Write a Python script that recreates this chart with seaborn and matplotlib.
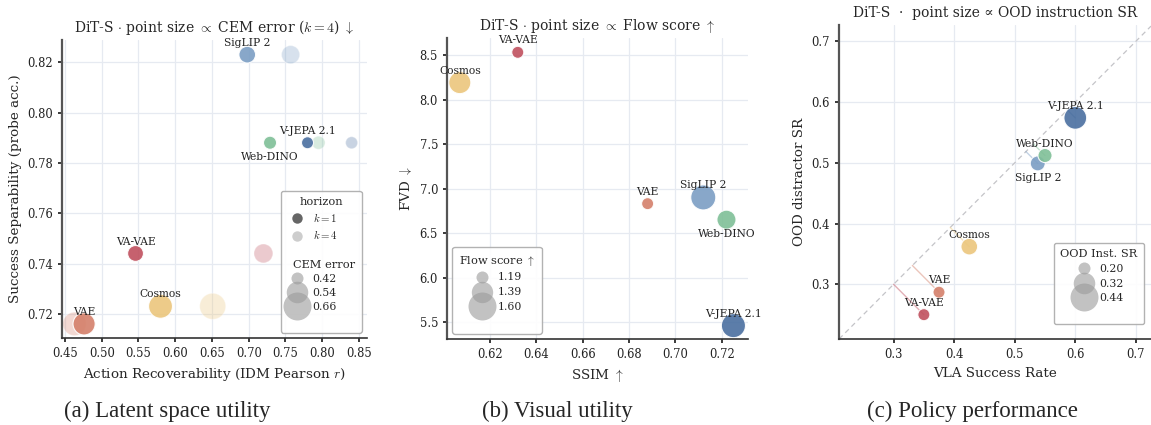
"""
DiT-S 三个维度的散点对比：潜空间可用性、视觉质量、策略表现。
"""

import numpy as np
import pandas as pd
import matplotlib as mpl
import matplotlib.pyplot as plt
import seaborn as sns
from matplotlib.lines import Line2D
from matplotlib.offsetbox import HPacker, DrawingArea

# ---- 数据 ----
models = ["VAE", "VA-VAE", "Cosmos", "SigLIP 2", "Web-DINO", "V-JEPA 2.1"]
colors = ["#d4806a", "#c0505e", "#ebc67c", "#7b9ec4", "#7fbf97", "#4a6fa0"]

# (a) 潜空间可用性
idm_k1 = [0.476, 0.546, 0.580, 0.698, 0.729, 0.780]
idm_k4 = [0.463, 0.720, 0.651, 0.757, 0.795, 0.840]
probe_acc = [0.716, 0.744, 0.723, 0.823, 0.788, 0.788]
cem_k1 = [0.55, 0.46, 0.58, 0.47, 0.43, 0.40]
cem_k4 = [0.57, 0.50, 0.62, 0.49, 0.43, 0.40]
cem_ticks = [0.42, 0.54, 0.66]

# (b) 视觉质量
ssim = [0.688, 0.632, 0.607, 0.712, 0.722, 0.725]
fvd = [6.83, 8.53, 8.19, 6.90, 6.65, 5.46]
flow = [1.15, 1.15, 1.41, 1.50, 1.33, 1.47]
flow_ticks = [1.19, 1.39, 1.60]

# (c) 策略表现
vla_sr = [0.375, 0.350, 0.425, 0.538, 0.550, 0.600]
ood_dist = [0.287, 0.250, 0.362, 0.499, 0.512, 0.574]
ood_inst = [0.17, 0.18, 0.25, 0.23, 0.22, 0.34]
inst_ticks = [0.20, 0.32, 0.44]

# 标签位置：1 在点上方，-1 在点下方
lab_a = [1, 1, 1, 1, -1, 1]
lab_b = [1, 1, 1, 1, -1, 1]
lab_c = [1, 1, 1, -1, 1, 1]

palette = dict(zip(models, colors))
SIZES = (75, 406)

sns.set_theme(style="whitegrid")
plt.rcParams["font.family"] = ["DejaVu Serif"]
plt.rcParams["mathtext.fontset"] = "cm"
plt.rcParams.update({
    "grid.color": "#e6eaf1", "grid.linewidth": 0.9,
    "axes.edgecolor": "#333333", "axes.linewidth": 1.2,
    "xtick.bottom": True, "ytick.left": True,
    "xtick.major.size": 3, "ytick.major.size": 3,
    "xtick.color": "#222222", "ytick.color": "#222222",
    "xtick.labelsize": 8.3, "ytick.labelsize": 8.3,
    "axes.labelsize": 9.7, "axes.titlesize": 10,
    "legend.fontsize": 7.8, "legend.title_fontsize": 8.2,
})

fig = plt.figure(figsize=(11.51, 4.25), dpi=100)
ax_a = fig.add_axes([0.0539, 0.2047, 0.265, 0.701])
ax_b = fig.add_axes([0.3884, 0.2024, 0.2615, 0.708])
ax_c = fig.add_axes([0.729, 0.2024, 0.271, 0.739])


def size_of(v, lo, hi):
    return SIZES[0] + (v - lo) / (hi - lo) * (SIZES[1] - SIZES[0])


def label_points(ax, xs, ys, where):
    for name, x, y, w in zip(models, xs, ys, where):
        if w > 0:
            ax.annotate(name, (x, y), xytext=(0, 5), textcoords="offset points",
                        ha="center", va="bottom", fontsize=7.7, color="#222222")
        else:
            ax.annotate(name, (x, y), xytext=(0, -7), textcoords="offset points",
                        ha="center", va="top", fontsize=7.7, color="#222222")


def size_handles(ticks):
    lo, hi = ticks[0], ticks[-1]
    return [Line2D([], [], marker="o", linestyle="", color="#9a9a9a", alpha=0.6,
                   markeredgewidth=0, markersize=np.sqrt(size_of(t, lo, hi)))
            for t in ticks]


def hidden():
    return Line2D([], [], visible=False)


def flush_subtitles(leg):
    # 隐藏句柄的行把文字左移（与 seaborn 的小标题处理一致）
    for hp in leg.findobj(HPacker):
        kids = hp.get_children()
        if len(kids) == 2 and isinstance(kids[0], DrawingArea):
            arts = kids[0].get_children()
            if arts and not all(a.get_visible() for a in arts):
                kids[0].set_width(0)


def style(ax):
    sns.despine(ax=ax)
    ax.spines["left"].set_color("#555555")
    ax.spines["left"].set_linewidth(1.6)
    ax.set_axisbelow(True)


LEG = dict(handletextpad=0.5, handlelength=1.8, borderpad=0.6,
           frameon=True, edgecolor="#aaaaaa", framealpha=0.9)

# ---- (a) ----
df_a1 = pd.DataFrame({"model": models, "x": idm_k1, "y": probe_acc, "s": cem_k1})
df_a4 = pd.DataFrame({"model": models, "x": idm_k4, "y": probe_acc, "s": cem_k4})
norm_a = (cem_ticks[0], cem_ticks[-1])
sns.scatterplot(data=df_a4, x="x", y="y", hue="model", palette=palette, size="s",
                sizes=SIZES, size_norm=norm_a, alpha=0.3, edgecolor="white",
                linewidth=0.8, legend=False, ax=ax_a)
sns.scatterplot(data=df_a1, x="x", y="y", hue="model", palette=palette, size="s",
                sizes=SIZES, size_norm=norm_a, alpha=0.9, edgecolor="white",
                linewidth=0.8, legend=False, ax=ax_a)
label_points(ax_a, idm_k1, probe_acc, lab_a)
ax_a.set_xlim(0.446, 0.861)
ax_a.set_ylim(0.7104, 0.8288)
ax_a.set_xticks(np.arange(0.45, 0.851, 0.05))
ax_a.set_yticks([0.72, 0.74, 0.76, 0.78, 0.80, 0.82])
ax_a.set_xlabel("Action Recoverability (IDM Pearson $r$)")
ax_a.set_ylabel("Success Separability (probe acc.)")
ax_a.set_title(r"DiT-S $\cdot$ point size $\propto$ CEM error ($k=4$) $\downarrow$")
style(ax_a)

hz = [Line2D([], [], marker="o", linestyle="", color="#555555", alpha=0.9,
             markeredgewidth=0, markersize=7.5),
      Line2D([], [], marker="o", linestyle="", color="#c8c8c8", alpha=0.9,
             markeredgewidth=0, markersize=7.5)]
handles_a = hz + [hidden(), hidden()] + size_handles(cem_ticks) + [hidden()]
labels_a = (["$k=1$", "$k=4$", " ", "CEM error"]
            + [f"{t:.2f}" for t in cem_ticks] + [" "])
leg_a = ax_a.legend(handles_a, labels_a, title="horizon", loc="lower right",
                    labelspacing=0.38, **LEG)
flush_subtitles(leg_a)
for t in leg_a.get_texts():
    if t.get_text() == "CEM error":
        t.set_fontsize(8.2)

# ---- (b) ----
df_b = pd.DataFrame({"model": models, "x": ssim, "y": fvd, "s": flow})
sns.scatterplot(data=df_b, x="x", y="y", hue="model", palette=palette, size="s",
                sizes=SIZES, size_norm=(flow_ticks[0], flow_ticks[-1]), alpha=0.9,
                edgecolor="white", linewidth=0.8, legend=False, ax=ax_b)
label_points(ax_b, ssim, fvd, lab_b)
ax_b.set_xlim(0.6015, 0.7313)
ax_b.set_ylim(5.31, 8.69)
ax_b.set_xticks([0.62, 0.64, 0.66, 0.68, 0.70, 0.72])
ax_b.set_yticks([5.5, 6.0, 6.5, 7.0, 7.5, 8.0, 8.5])
ax_b.set_xlabel(r"SSIM $\uparrow$")
ax_b.set_ylabel(r"FVD $\downarrow$")
ax_b.set_title(r"DiT-S $\cdot$ point size $\propto$ Flow score $\uparrow$")
style(ax_b)
ax_b.legend(size_handles(flow_ticks) + [hidden()],
            [f"{t:.2f}" for t in flow_ticks] + [" "],
            title=r"Flow score $\uparrow$", loc="lower left", labelspacing=0.45, **LEG)

# ---- (c) ----
df_c = pd.DataFrame({"model": models, "x": vla_sr, "y": ood_dist, "s": ood_inst})
ax_c.axline((0, 0), slope=1, color="#c4c4c8", lw=0.9, ls=(0, (4, 3)), zorder=1)
for x, y, c in zip(vla_sr, ood_dist, colors):
    p = (x + y) / 2
    ax_c.plot([x, p], [y, p], color=c, alpha=0.45, lw=1.0, zorder=1)
sns.scatterplot(data=df_c, x="x", y="y", hue="model", palette=palette, size="s",
                sizes=SIZES, size_norm=(inst_ticks[0], inst_ticks[-1]), alpha=0.9,
                edgecolor="white", linewidth=0.8, legend=False, ax=ax_c, zorder=3)
label_points(ax_c, vla_sr, ood_dist, lab_c)
ax_c.set_xlim(0.21, 0.725)
ax_c.set_ylim(0.21, 0.727)
ax_c.set_xticks([0.3, 0.4, 0.5, 0.6, 0.7])
ax_c.set_yticks([0.3, 0.4, 0.5, 0.6, 0.7])
ax_c.set_xlabel("VLA Success Rate")
ax_c.set_ylabel("OOD distractor SR")
ax_c.set_title("DiT-S  ·  point size ∝ OOD instruction SR")
style(ax_c)
ax_c.legend(size_handles(inst_ticks) + [hidden()],
            [f"{t:.2f}" for t in inst_ticks] + [" "],
            title="OOD Inst. SR", loc="lower right", bbox_to_anchor=(0.995, 0.03),
            labelspacing=0.42, **LEG)

# ---- 子图标题 ----
caps = ["(a) Latent space utility", "(b) Visual utility", "(c) Policy performance"]
cap_x = [0.145, 0.484, 0.845]
for cx, cap in zip(cap_x, caps):
    fig.text(cx, 0.032, cap, ha="center", va="center", fontsize=16.5,
             family=["Liberation Serif", "DejaVu Serif"])

fig.savefig("out.png", dpi=100)
